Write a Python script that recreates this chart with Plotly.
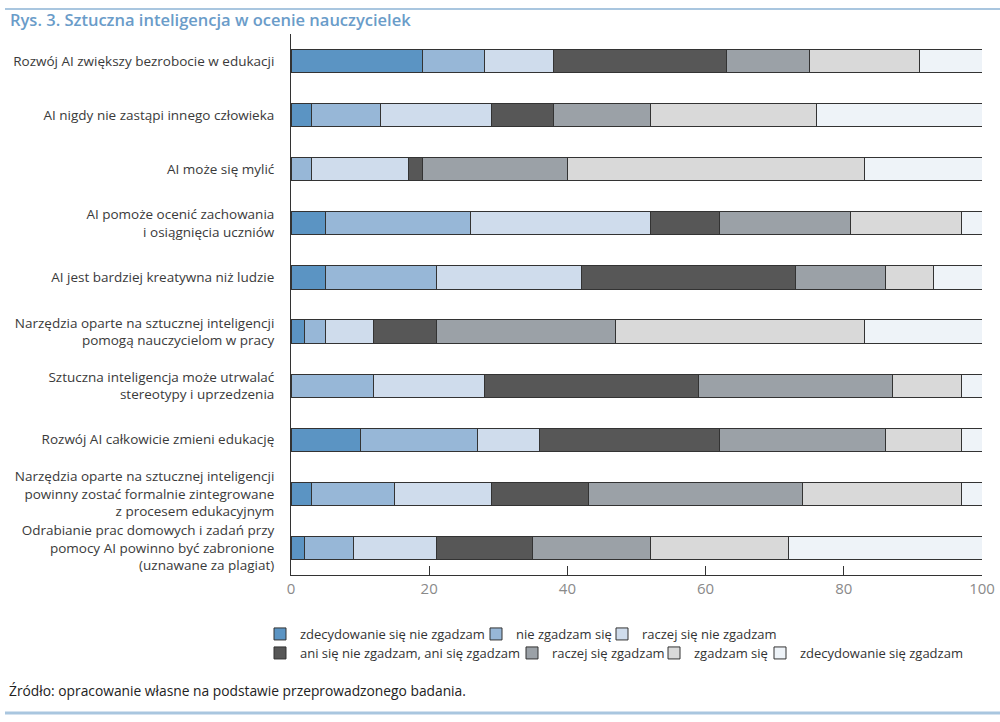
import plotly.graph_objects as go

categories = [
    "Rozwój AI zwiększy bezrobocie w edukacji",
    "AI nigdy nie zastąpi innego człowieka",
    "AI może się mylić",
    "AI pomoże ocenić zachowania<br>i osiągnięcia uczniów",
    "AI jest bardziej kreatywna niż ludzie",
    "Narzędzia oparte na sztucznej inteligencji<br>pomogą nauczycielom w pracy",
    "Sztuczna inteligencja może utrwalać<br>stereotypy i uprzedzenia",
    "Rozwój AI całkowicie zmieni edukację",
    "Narzędzia oparte na sztucznej inteligencji<br>powinny zostać formalnie zintegrowane<br>z procesem edukacyjnym",
    "Odrabianie prac domowych i zadań przy<br>pomocy AI powinno być zabronione<br>(uznawane za plagiat)",
]

series_names = [
    "zdecydowanie się nie zgadzam",
    "nie zgadzam się",
    "raczej się nie zgadzam",
    "ani się nie zgadzam, ani się zgadzam",
    "raczej się zgadzam",
    "zgadzam się",
    "zdecydowanie się zgadzam",
]

zdecydowanie_nie = [19, 3, 0, 5, 5, 2, 0, 10, 3, 2]
nie_zgadzam = [9, 10, 3, 21, 16, 3, 12, 17, 12, 7]
raczej_nie = [10, 16, 14, 26, 21, 7, 16, 9, 14, 12]
ani_ani = [25, 9, 2, 10, 31, 9, 31, 26, 14, 14]
raczej_tak = [12, 14, 21, 19, 13, 26, 28, 24, 31, 17]
zgadzam = [16, 24, 43, 16, 7, 36, 10, 11, 23, 20]
zdecydowanie_tak = [9, 24, 17, 3, 7, 17, 3, 3, 3, 28]

series_values = [zdecydowanie_nie, nie_zgadzam, raczej_nie, ani_ani,
                 raczej_tak, zgadzam, zdecydowanie_tak]

x_ticks = [0, 20, 40, 60, 80, 100]

colors = ["#5b94c3", "#97b7d7", "#cfdcec", "#575757", "#9ba1a7", "#d9d9d9", "#eef3f8"]

# plot area in pixels
L, R, T, B = 291, 982, 34, 575
W, H = 1000, 722

def xc(px):
    return px / W

def yc(py):
    return 1 - py / H

def xp(px):
    return (px - L) / (R - L)

def yp(py):
    return (B - py) / (B - T)

# legend text start px, row center py
legend_pos = [
    (298, 634), (514, 634), (640, 634),
    (298, 653), (550, 653), (692, 653), (798, 653),
]

fig = go.Figure()
for i, (name, vals) in enumerate(zip(series_names, series_values)):
    lg = "legend" if i == 0 else f"legend{i+1}"
    fig.add_trace(go.Bar(
        y=categories, x=vals, name=name, orientation="h",
        marker=dict(color=colors[i], line=dict(color="#333333", width=1)),
        legend=lg,
    ))

layout_legends = {}
for i, (tx, ty) in enumerate(legend_pos):
    key = "legend" if i == 0 else f"legend{i+1}"
    layout_legends[key] = dict(
        x=xc(tx - 38), y=yc(ty), xref="container", yref="container",
        xanchor="left", yanchor="middle",
        orientation="h", bgcolor="rgba(0,0,0,0)", borderwidth=0,
        font=dict(family="Open Sans", size=13, color="#333333"),
        itemclick=False, itemdoubleclick=False,
    )

fig.update_layout(
    width=W, height=H,
    margin=dict(l=L, r=W - R, t=T, b=H - B, pad=0, autoexpand=False),
    barmode="stack", bargap=0.57,
    plot_bgcolor="white", paper_bgcolor="white",
    showlegend=True,
    xaxis=dict(
        range=[0, 100], tickvals=x_ticks, ticktext=[str(v) for v in x_ticks],
        ticks="inside", ticklen=9, tickcolor="#333333", tickwidth=1,
        showline=True, linecolor="#333333", linewidth=1, showgrid=False,
        zeroline=False,
        tickfont=dict(family="Open Sans", size=15, color="#8a8a8a"),
        fixedrange=True,
    ),
    yaxis=dict(
        categoryorder="array", categoryarray=categories, autorange="reversed",
        showline=True, linecolor="#333333", linewidth=1, showgrid=False,
        ticks="", ticklabelstandoff=13,
        tickfont=dict(family="Open Sans", size=13.5, color="#3a3a3a"),
        fixedrange=True,
    ),
    **layout_legends,
    shapes=[
        dict(type="line", xref="paper", yref="paper",
             x0=xp(5), x1=xp(1000), y0=yp(9), y1=yp(9),
             line=dict(color="#a9c6df", width=2)),
        dict(type="line", xref="paper", yref="paper",
             x0=xp(5), x1=xp(1000), y0=yp(713), y1=yp(713),
             line=dict(color="#a9c6df", width=3)),
    ],
    annotations=[
        dict(text="Rys. 3. Sztuczna inteligencja w ocenie nauczycielek",
             xref="paper", yref="paper", x=xp(8), y=yp(19),
             xanchor="left", yanchor="middle", showarrow=False,
             font=dict(family="Open Sans", size=16.5, weight=600, color="#6a9cc9")),
        dict(text="Źródło: opracowanie własne na podstawie przeprowadzonego badania.",
             xref="paper", yref="paper", x=xp(7), y=yp(690),
             xanchor="left", yanchor="middle", showarrow=False,
             font=dict(family="Open Sans", size=13.8, color="#222222")),
    ],
)

fig.write_html("out.html")
